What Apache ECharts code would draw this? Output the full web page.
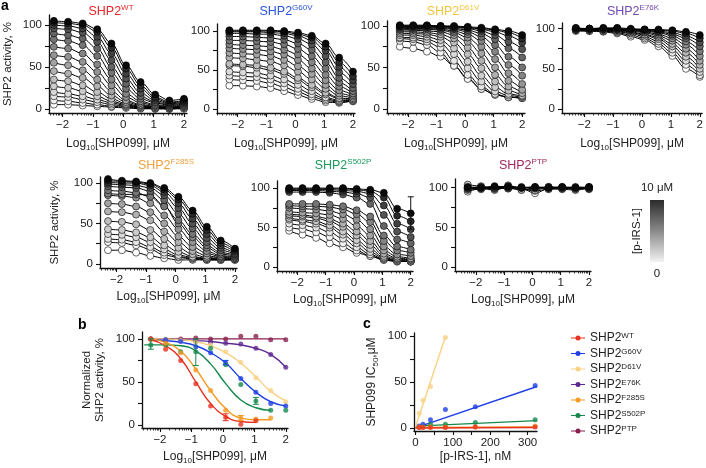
<!DOCTYPE html>
<html><head><meta charset="utf-8">
<script src="https://cdn.jsdelivr.net/npm/echarts@6/dist/echarts.min.js"></script>
<style>html,body{margin:0;padding:0;background:#fff}#c{width:706px;height:468px}</style>
</head><body><div id="c"></div>
<script>
// ---------- DATA ----------
const doseLog = [-2.29,-1.82,-1.34,-0.86,-0.39,0.09,0.57,1.05,1.52,2.0];
const xTickValues = [-2,-1,0,1,2];
const yTickValues = [0,25,50,75,100];
const yLabelValues = [0,50,100];
const mutants = ['WT','G60V','D61V','E76K','F285S','S502P','PTP'];

// panel a: curves ordered from highest [p-IRS-1] (black) to 0 (white)
const wtCurves = [
 [105,104,102,95,78,52,32,17,10,12],[103,102,100,92,73,48,28,14,8,10],[100,99,96,86,66,42,24,12,7,9],
 [96,95,91,80,58,36,19,10,6,8],[90,88,84,72,50,30,15,8,5,7],[83,81,76,63,43,24,12,7,4,6],
 [74,72,66,53,35,18,9,5,3,5],[64,62,56,44,28,14,7,4,2,4],[55,52,46,35,21,10,5,3,2,3],
 [45,42,37,27,16,8,4,2,1,3],[35,33,28,20,12,6,3,2,1,2],[27,25,21,15,9,5,2,1,1,2],
 [20,18,15,11,7,4,2,1,1,1],[15,14,11,8,5,3,1,1,0,1],[10,9,7,5,3,2,1,0,0,1],[5,5,4,3,2,1,0,0,0,0]];
const g60vCurves = [
 [101,101,101,101,100,98,94,84,66,48],[100,100,100,100,99,96,92,80,60,42],[99,99,99,98,97,94,88,75,54,37],
 [97,97,96,96,94,90,83,68,47,32],[93,93,92,91,89,84,76,60,40,27],[88,88,87,86,83,77,68,52,34,23],
 [83,82,81,80,76,70,60,44,29,20],[78,77,76,74,70,63,52,37,24,18],[72,71,70,68,63,55,45,31,20,16],
 [66,65,63,61,56,48,38,26,17,14],[58,57,56,53,48,40,31,21,14,13],[56,55,53,50,45,37,28,19,13,12],
 [48,47,46,43,38,31,23,15,11,11],[43,42,41,38,33,26,19,13,10,10],[38,37,36,33,28,22,16,11,9,10],
 [30,30,29,27,23,18,13,9,8,11]];
const d61vCurves = [
 [101,101,101,100,100,99,98,96,94,89],[100,100,100,100,99,98,97,95,92,85],[100,100,100,99,99,98,96,93,88,80],
 [99,99,99,99,98,97,94,89,81,72],[99,99,99,98,97,95,91,84,73,62],[98,98,98,97,96,93,87,77,63,50],
 [97,97,97,96,94,90,82,69,53,40],[96,96,96,95,92,86,75,60,43,30],[95,95,94,93,89,81,67,50,34,23],
 [93,93,92,90,85,74,58,41,27,19],[91,91,90,87,80,66,49,33,22,16],[89,89,87,83,73,57,40,26,18,15],
 [86,86,84,79,66,49,33,21,16,14],[85,84,81,74,58,41,27,18,14,13],[82,81,77,68,52,36,24,17,14,13],
 [75,73,69,63,52,37,24,17,14,13]];
const e76kCurves = [
 [101,100,101,101,100,99,99,98,96,92],[100,100,100,100,99,99,98,97,94,88],[100,100,100,100,99,98,97,95,91,83],
 [100,100,100,99,99,98,96,93,88,78],[99,99,99,99,98,97,95,91,84,72],[99,99,99,99,98,96,93,88,80,66],
 [99,99,99,98,97,95,91,85,75,60],[99,99,98,98,96,93,89,81,70,55],[98,98,98,97,95,92,87,78,65,50],
 [98,98,97,96,94,90,84,74,60,46],[98,97,97,95,92,88,81,70,55,42],[97,97,96,94,90,86,78,66,50,40]];
const f285sCurves = [
 [105,103,102,100,94,83,66,46,29,19],[103,102,101,99,92,80,62,42,26,17],[101,100,100,97,89,75,56,37,23,15],
 [99,98,97,94,85,69,50,32,20,13],[96,95,94,90,79,62,44,27,17,12],[91,90,88,83,71,54,37,23,14,11],
 [87,86,86,85,72,50,33,20,12,10],[85,84,82,75,60,43,27,16,10,9],[75,74,71,64,50,34,21,13,9,8],
 [65,64,61,54,40,27,16,10,8,7],[53,52,49,42,31,20,12,8,7,7],[43,42,39,33,23,15,9,7,6,6],
 [37,36,33,27,18,11,8,6,6,6],[31,30,27,21,14,9,7,6,5,6],[27,26,23,18,11,8,6,5,5,5],[17,17,14,10,7,5,5,5,5,5]];
const s502pCurves = [
 [100,100,100,100,100,99,98,94,74,68],[99,99,99,99,99,98,96,88,65,58],[98,98,98,98,97,96,93,78,55,48],
 [97,97,97,96,95,93,88,66,45,38],[95,95,95,94,92,88,80,52,35,30],[80,80,80,79,77,72,64,40,26,22],
 [78,77,77,76,73,67,57,33,21,18],[75,74,73,71,67,60,48,26,16,14],[70,69,68,66,61,52,40,21,13,11],
 [67,66,64,61,55,45,33,17,11,10],[65,64,62,58,51,40,28,14,10,9],[62,60,58,53,45,34,23,12,9,8],
 [60,58,55,50,41,30,19,11,8,7],[55,53,50,44,36,25,16,10,8,7],[50,48,44,38,30,21,14,9,7,7],
 [46,41,37,30,25,18,14,9,7,7]];
const ptpCurves = [
 [101,100,102,101,100,101,100,101,100,101],[100,101,100,102,100,100,101,100,101,100],
 [99,100,101,100,101,99,100,100,100,99],[100,99,100,99,100,101,99,101,99,100],
 [98,100,99,100,97,100,100,99,100,99],[104,102,98,103,99,97,101,100,98,101],
 [97,98,100,99,98,96,98,99,99,98],[95,99,97,101,99,93,99,98,97,100]];
const s502pErrorBar = [[2.0,48,89]];

// panel b: normalized activity (points and read-off fitted curves)
const bPoints = {
 WT:[100,88,75,48,22,9,1,5],
 G60V:[100,99,97,91,84,72,54,38,25,22],
 D61V:[99,100,98,96,93,85,73,55,40,27],
 E76K:[100,99,98,97,96,95,94,89,82,67],
 F285S:[100,95,84,64,40,17,8,7,8],
 S502P:[93,93,85,85,89,70,47,28,17,17],
 PTP:[100,99,100,101,100,100,103,103,99,99]};
const bFits = {
 WT:[99,92,77,50,25,10,4,3],
 G60V:[99,98,96,92,84,72,54,38,27,22],
 D61V:[100,100,99,97,92,84,72,56,39,28],
 E76K:[100,100,99,98,97,95,93,89,82,67],
 F285S:[100,96,86,65,40,19,8,6,6],
 S502P:[93,93,93,92,86,71,48,29,20,17],
 PTP:[100,100,100,100,100,100,100,100,100,100]};
const bErrorBars = [['S502P',-2.29,88,100],['S502P',-0.86,69,100],['WT',0.09,5,13],['S502P',1.05,24,32],['G60V',0.09,70,75],['F285S',0.57,5,11]];

// panel c: IC50 vs [p-IRS-1]
const irsConc = [10,20,40,80,160,320];
const cIC50 = {
 WT:[0.5,0.5,0.5,0.5,1,1],
 G60V:[2,4,9,20,23,46],
 D61V:[16,30,45,98,null,null],
 F285S:[1,1,1,1,1,2],
 S502P:[1,2,4,4,6,9]};
const cFitEnds = {WT:[[0,0],[325,0.5]], G60V:[[0,0],[325,45]], D61V:[[0,1],[80,99]], F285S:[[0,0.5],[325,1]], S502P:[[0,2],[325,8]]};

// ---------- STYLE / LAYOUT ----------
const FONT = '"Liberation Sans", Arial, sans-serif';
const mColors = {WT:'#e8311f',G60V:'#1e40e6',D61V:'#f9d184',E76K:'#5e2a92',F285S:'#f59a23',S502P:'#15894d',PTP:'#8a1f4e'};
const tColors = {WT:'#e8262b',G60V:'#2a56e0',D61V:'#f2c440',E76K:'#7149b0',F285S:'#f0a040',S502P:'#1d9a5c',PTP:'#a0285c'};
const panelsA = [
 {key:'WT', curves:wtCurves, grid:{left:49,top:15,width:138,height:98}, x:[-2.45,2.1], y:[-5,112], t:[111,12], yName:true, nameGap:35},
 {key:'G60V', curves:g60vCurves, grid:{left:217,top:24,width:138,height:89}, x:[-2.72,2.07], y:[-5,109], t:[286,12]},
 {key:'D61V', curves:d61vCurves, grid:{left:387,top:21,width:138,height:92}, x:[-2.74,2.1], y:[-5,106], t:[453,12]},
 {key:'E76K', curves:e76kCurves, grid:{left:562,top:23,width:141,height:90}, x:[-2.77,2.08], y:[-5,107], t:[633,12]},
 {key:'F285S', curves:f285sCurves, grid:{left:100,top:177,width:137,height:91}, x:[-2.56,2.07], y:[-5,107.5], t:[166,166], yName:true, nameGap:39},
 {key:'S502P', curves:s502pCurves, grid:{left:277,top:181,width:136,height:90}, x:[-2.72,2.08], y:[-5,109], t:[343,166]},
 {key:'PTP', curves:ptpCurves, grid:{left:455,top:179,width:136,height:92}, x:[-2.74,2.07], y:[-5,111], t:[523,166]}
];

const grids=[], xAxes=[], yAxes=[], series=[], graphics=[];
const minusFmt = v => v<0 ? '\u2212'+Math.abs(v) : String(v);
const subRich = {a:{fontSize:12,fontFamily:FONT,color:'#222',lineHeight:16},s:{fontSize:8,fontFamily:FONT,color:'#222',verticalAlign:'bottom',lineHeight:16,padding:[4,0,0,0]}};
const logName = '{a|Log}{s|10}{a|[SHP099], μM}';

function logMinor(min,max){
  const out=[];
  for(let n=Math.floor(min)-1;n<=Math.ceil(max);n++){
    for(let k=2;k<=9;k++){const v=n+Math.log10(k); if(v>=min&&v<=max) out.push(v);}
  }
  return out;
}
const axisLineStyle = {color:'#111',width:1.3};

function addLogXAxes(gi, range, nameGap){
  xAxes.push({type:'value',gridIndex:gi,min:range[0],max:range[1],position:'bottom',
    axisLine:{show:true,onZero:false,lineStyle:axisLineStyle},
    axisTick:{show:true,length:4,customValues:xTickValues,lineStyle:{color:'#111',width:1.1}},
    axisLabel:{customValues:xTickValues,formatter:minusFmt,fontSize:11.5,fontFamily:FONT,color:'#222',margin:6},
    splitLine:{show:false},
    name:logName,nameLocation:'middle',nameGap:nameGap,nameTextStyle:{rich:subRich}});
  const mainIdx = xAxes.length-1;
  xAxes.push({type:'value',gridIndex:gi,min:range[0],max:range[1],position:'bottom',
    axisLine:{show:false,onZero:false},axisLabel:{show:false},splitLine:{show:false},
    axisTick:{show:true,length:2.5,customValues:logMinor(range[0],range[1]),lineStyle:{color:'#111',width:0.8}}});
  return mainIdx;
}
function addYAxis(gi, range, name, nameGap, rich){
  yAxes.push({type:'value',gridIndex:gi,min:range[0],max:range[1],
    axisLine:{show:true,onZero:false,lineStyle:axisLineStyle},
    axisTick:{show:true,length:4,customValues:yTickValues,lineStyle:{color:'#111',width:1.1}},
    axisLabel:{customValues:yLabelValues,fontSize:11.5,fontFamily:FONT,color:'#222',margin:7},
    splitLine:{show:false},
    name:name||'',nameLocation:'middle',nameGap:nameGap||30,
    nameTextStyle:rich?{rich:rich,align:'center'}:{fontSize:11.5,fontFamily:FONT,color:'#222'}});
  return yAxes.length-1;
}
function grey(i,n){const t=n>1?i/(n-1):0; const g=Math.round(10+245*Math.pow(t,0.75)); return 'rgb('+g+','+g+','+g+')';}

panelsA.forEach((p,gi)=>{
  grids.push(Object.assign({containLabel:false},p.grid));
  const xi = addLogXAxes(gi,p.x, gi<4?23:21);
  const yi = addYAxis(gi,p.y,p.yName?'SHP2 activity, %':'',p.nameGap);
  const n=p.curves.length;
  for(let j=n-1;j>=0;j--){
    series.push({type:'line',xAxisIndex:xi,yAxisIndex:yi,smooth:0.35,smoothMonotone:'x',
      data:doseLog.map((x,k)=>[x,p.curves[j][k]]),
      symbol:'circle',symbolSize:7,
      itemStyle:{color:grey(j,n),borderColor:'#000',borderWidth:0.6},
      lineStyle:{color:'#000',width:1},silent:true,z:2});
  }
  graphics.push({type:'text',x:p.t[0],y:p.t[1],style:{text:'{a|SHP2}{s|'+p.key+'}',align:'center',verticalAlign:'middle',
    rich:{a:{fontSize:12.5,fontFamily:FONT,fill:tColors[p.key],lineHeight:16},s:{fontSize:8,fontFamily:FONT,fill:tColors[p.key],verticalAlign:'top',lineHeight:16}}}});
  if(p.key==='S502P'){
    series.push({type:'custom',xAxisIndex:xi,yAxisIndex:yi,data:s502pErrorBar,encode:{x:0,y:[1,2]},z:3,
      renderItem:(params,api)=>errBar(api,'#111')});
  }
});

function errBar(api,color){
  const x=api.value(0), p1=api.coord([x,api.value(1)]), p2=api.coord([x,api.value(2)]), w=3;
  return {type:'group',children:[
    {type:'line',shape:{x1:p1[0],y1:p1[1],x2:p2[0],y2:p2[1]},style:{stroke:color,lineWidth:1}},
    {type:'line',shape:{x1:p1[0]-w,y1:p1[1],x2:p1[0]+w,y2:p1[1]},style:{stroke:color,lineWidth:1}},
    {type:'line',shape:{x1:p2[0]-w,y1:p2[1],x2:p2[0]+w,y2:p2[1]},style:{stroke:color,lineWidth:1}}]};
}

// panel b
const gb = grids.length;
grids.push({left:142,top:332,width:146,height:96});
const bxi = addLogXAxes(gb,[-2.57,2.07],21);
const byi = addYAxis(gb,[-3.5,108],'Normalized\nSHP2 activity, %',36,null);
yAxes[byi].nameTextStyle = {fontSize:11.5,fontFamily:FONT,color:'#222',lineHeight:13};
const bOrder = ['PTP','E76K','D61V','G60V','S502P','F285S','WT'];
bOrder.forEach(m=>{
  const fit = bFits[m];
  const fx = m==='S502P' ? [-2.5].concat(doseLog) : doseLog;
  series.push({name:m,type:'line',xAxisIndex:bxi,yAxisIndex:byi,smooth:0.5,color:mColors[m],
    data:fit.map((v,k)=>[fx[k],v]),showSymbol:false,symbol:'none',lineStyle:{color:mColors[m],width:1.4},z:3});
  series.push({name:m+' pts',type:'scatter',xAxisIndex:bxi,yAxisIndex:byi,
    data:bPoints[m].map((v,k)=>[doseLog[k],v]),symbolSize:5,itemStyle:{color:mColors[m]},z:4});
});
series.push({type:'custom',xAxisIndex:bxi,yAxisIndex:byi,data:bErrorBars.map(e=>[e[1],e[2],e[3],e[0]]),encode:{x:0,y:[1,2]},z:5,
  renderItem:(params,api)=>errBar(api,mColors[bErrorBars[params.dataIndex][0]])});

// panel c
const gc = grids.length;
grids.push({left:414,top:333,width:123,height:98});
xAxes.push({type:'value',gridIndex:gc,min:-4,max:325,
  axisLine:{show:true,onZero:false,lineStyle:axisLineStyle},
  axisTick:{show:true,length:4,customValues:[0,50,100,150,200,250,300],lineStyle:{color:'#111',width:1.1}},
  axisLabel:{customValues:[0,100,200,300],fontSize:11.5,fontFamily:FONT,color:'#222',margin:6},
  splitLine:{show:false},name:'[p-IRS-1], nM',nameLocation:'middle',nameGap:20,nameTextStyle:{fontSize:12,fontFamily:FONT,color:'#222'}});
const cxi = xAxes.length-1;
yAxes.push({type:'value',gridIndex:gc,min:-3.3,max:103,
  axisLine:{show:true,onZero:false,lineStyle:axisLineStyle},
  axisTick:{show:true,length:4,customValues:yTickValues,lineStyle:{color:'#111',width:1.1}},
  axisLabel:{customValues:yLabelValues,fontSize:11.5,fontFamily:FONT,color:'#222',margin:7},
  splitLine:{show:false},name:'{a|SHP099 IC}{s|50}{a|,μM}',nameLocation:'middle',nameGap:34,nameTextStyle:{rich:subRich}});
const cyi = yAxes.length-1;
['S502P','G60V','D61V','F285S','WT'].forEach(m=>{
  series.push({name:m,type:'line',xAxisIndex:cxi,yAxisIndex:cyi,color:mColors[m],data:cFitEnds[m],showSymbol:false,symbol:'none',lineStyle:{color:mColors[m],width:1.4},z:3});
  series.push({name:m+' c',type:'scatter',xAxisIndex:cxi,yAxisIndex:cyi,data:irsConc.map((c,k)=>[c,cIC50[m][k]]).filter(d=>d[1]!=null),symbolSize:5,itemStyle:{color:mColors[m]},z:4});
});

// panel letters, colour bar
const bold = {fontSize:14,fontWeight:'bold',fontFamily:FONT,fill:'#000'};
graphics.push({type:'text',x:1,y:-1,style:Object.assign({text:'a'},bold)});
graphics.push({type:'text',x:78,y:318,style:Object.assign({text:'b'},bold)});
graphics.push({type:'text',x:363,y:317,style:Object.assign({text:'c'},bold)});
graphics.push({type:'rect',shape:{x:650,y:200,width:14,height:62},style:{fill:new echarts.graphic.LinearGradient(0,0,0,1,[{offset:0,color:'#2b2b2b'},{offset:0.5,color:'#8a8a8a'},{offset:1,color:'#f2f2f2'}])}});
graphics.push({type:'text',x:657,y:188,style:{text:'10 μM',align:'center',verticalAlign:'middle',fontSize:11.5,fontFamily:FONT,fill:'#222'}});
graphics.push({type:'text',x:657,y:274,style:{text:'0',align:'center',verticalAlign:'middle',fontSize:11.5,fontFamily:FONT,fill:'#222'}});
graphics.push({type:'text',x:637,y:231,rotation:Math.PI/2,style:{text:'[p-IRS-1]',align:'center',verticalAlign:'middle',fontSize:11.5,fontFamily:FONT,fill:'#222'}});

const chart = echarts.init(document.getElementById('c'),null,{width:706,height:468});
chart.setOption({
  animation:false,
  backgroundColor:'#fff',
  grid:grids, xAxis:xAxes, yAxis:yAxes, series:series,
  legend:{data:mutants,orient:'vertical',left:566,top:327,itemWidth:14,itemHeight:5,itemGap:3.5,selectedMode:false,
    icon:'path://M0,2H14V3H0Z M9.5,2.5A2.5,2.5,0,1,1,4.5,2.5A2.5,2.5,0,1,1,9.5,2.5Z',
    formatter:n=>'{a|SHP2}{s|'+n+'}',
    textStyle:{rich:{a:{fontSize:12,fontFamily:FONT,color:'#222',lineHeight:12},s:{fontSize:8,fontFamily:FONT,color:'#222',verticalAlign:'top',lineHeight:12}}}},
  graphic:graphics
});
</script></body></html>
